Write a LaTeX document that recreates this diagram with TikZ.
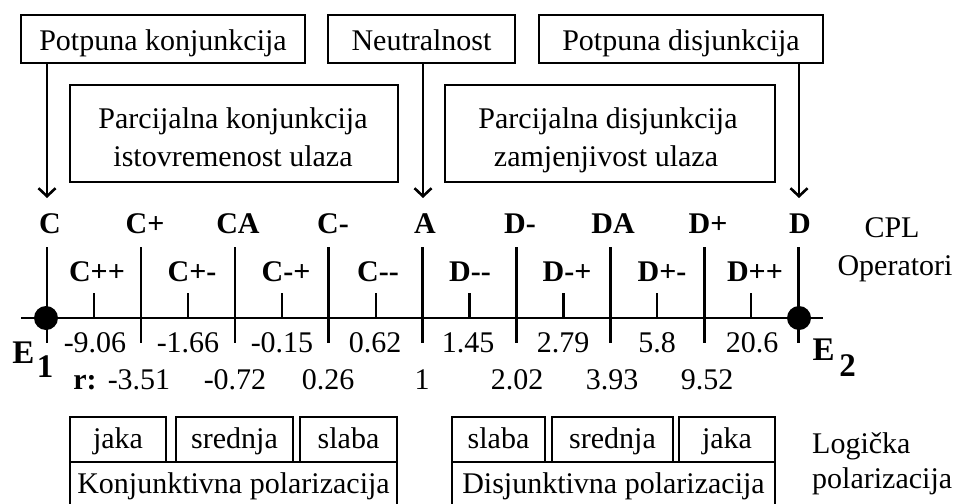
\documentclass[tikz,border=0pt]{standalone}
\usepackage{fontspec}
\setmainfont{Liberation Serif}
\usetikzlibrary{arrows.meta}
\begin{document}
\begin{tikzpicture}[x=1pt,y=-1pt,
  lw/.style={line width=2.6pt},
  fnt/.style={font=\fontsize{30}{38}\selectfont},
  box/.style={draw, lw, inner sep=0pt, fnt},
  txt/.style={inner sep=0pt, anchor=base, fnt},
  btxt/.style={inner sep=0pt, anchor=base, font=\fontsize{30}{38}\selectfont\bfseries},
  etxt/.style={inner sep=0pt, anchor=base, font=\fontsize{33}{38}\selectfont\bfseries},
  arr/.style={lw, -{Straight Barb[length=8pt,width=17pt]}},
  dot/.style={circle, fill=black, inner sep=0pt, minimum size=24pt}]
\useasboundingbox (0,0) rectangle (957,503);
\clip (0,0) rectangle (957,503);

% top boxes
\node[box, minimum width=284pt, minimum height=48pt, text height=24pt, text depth=0pt] (pk) at (163,39) {Potpuna konjunkcija};
\node[box, minimum width=187pt, minimum height=48pt, text height=24pt, text depth=0pt] (ne) at (421.5,39) {Neutralnost};
\node[box, minimum width=284pt, minimum height=48pt, text height=24pt, text depth=0pt] (pd) at (681,39) {Potpuna disjunkcija};

% second row boxes
\node[box, minimum width=328pt, minimum height=97pt] (parK) at (234,133.5) {};
\node[txt] (parK1) at (233,128) {Parcijalna konjunkcija};
\node[txt] (parK2) at (233,166) {istovremenost ulaza};
\node[box, minimum width=330pt, minimum height=97pt] (parD) at (610,133.5) {};
\node[txt] (parD1) at (608,128) {Parcijalna disjunkcija};
\node[txt] (parD2) at (606,166) {zamjenjivost ulaza};

% axis
\coordinate (axL) at (21,318);
\coordinate (axR) at (823,318);
\draw[lw] (axL) -- (axR);
\foreach \x [count=\i from 0] in {47,140.9,234.8,328.7,422.6,516.5,610.4,704.3,798.2}{
  \coordinate (mt\i) at (\x,247);
  \coordinate (mb\i) at (\x,343);
  \draw[lw] (mt\i) -- (mb\i);
}
\foreach \x [count=\i from 0] in {94,188,282,376,469.5,563.5,657,751}{
  \coordinate (nt\i) at (\x,293);
  \coordinate (nb\i) at (\x,318);
  \draw[lw] (nt\i) -- (nb\i);
}
\node[dot] (E1dot) at (46,318) {};
\node[dot] (E2dot) at (799,318) {};

% arrows
\coordinate (aC) at (47,198);
\coordinate (aA) at (423,198);
\coordinate (aD) at (799,198);
\draw[arr] (pk.south -| aC) -- (aC);
\draw[arr] (ne.south -| aA) -- (aA);
\draw[arr] (pd.south -| aD) -- (aD);

% CPL operator labels
\foreach \x/\t [count=\i] in {50/C,145/C+,238/CA,333/C-,425/A,520/D-,613/DA,708/D+,800/D}{
  \node[btxt] (op\i) at (\x,233) {\t};
}
\foreach \x/\t [count=\i] in {97/C++,192/C+-,286/C-+,378/C-{}-,470/D-{}-,567/D-+,662/D+-,755/D++}{
  \node[btxt] (sop\i) at (\x,281) {\t};
}
\node[txt] (cpl) at (892,237) {CPL};
\node[txt] (oper) at (895,275) {Operatori};

% values
\foreach \x/\t [count=\i] in {95/-9.06,188/-1.66,282/-0.15,375/0.62,468/1.45,563/2.79,657/5.8,752/20.6}{
  \node[txt] (v\i) at (\x,352) {\t};
}
\node[btxt] (rlab) at (85,389) {r:};
\foreach \x/\t [count=\i] in {139/-3.51,235/-0.72,328/0.26,422/1,517/2.02,612/3.93,707/9.52}{
  \node[txt] (r\i) at (\x,389) {\t};
}

% E labels
\node[etxt] (E1) at (23.5,363) {E};
\node[etxt] (E1s) at (45,377) {1};
\node[etxt] (E2) at (823.5,360) {E};
\node[etxt] (E2s) at (847.5,376) {2};

% bottom boxes
\node[box, minimum width=96pt, minimum height=45pt, text height=19pt, text depth=2pt] (kj) at (118,439.5) {jaka};
\node[box, minimum width=117pt, minimum height=45pt, text height=19pt, text depth=2pt] (ks) at (234.5,439.5) {srednja};
\node[box, minimum width=97pt, minimum height=45pt, text height=19pt, text depth=2pt] (ksl) at (348.5,439.5) {slaba};
\node[box, minimum width=327pt, minimum height=44pt, text height=20pt, text depth=2pt] (konj) at (233.5,484) {Konjunktivna polarizacija};

\node[box, minimum width=93pt, minimum height=45pt, text height=19pt, text depth=2pt] (dsl) at (498.5,439.5) {slaba};
\node[box, minimum width=121pt, minimum height=45pt, text height=19pt, text depth=2pt] (ds) at (612.5,439.5) {srednja};
\node[box, minimum width=96pt, minimum height=45pt, text height=19pt, text depth=2pt] (dj) at (727,439.5) {jaka};
\node[box, minimum width=323pt, minimum height=44pt, text height=20pt, text depth=2pt] (disj) at (613.5,484) {Disjunktivna polarizacija};

\node[txt, anchor=base west] (log1) at (812,453) {Logička};
\node[txt, anchor=base west] (log2) at (812,488) {polarizacija};
\end{tikzpicture}
\end{document}
